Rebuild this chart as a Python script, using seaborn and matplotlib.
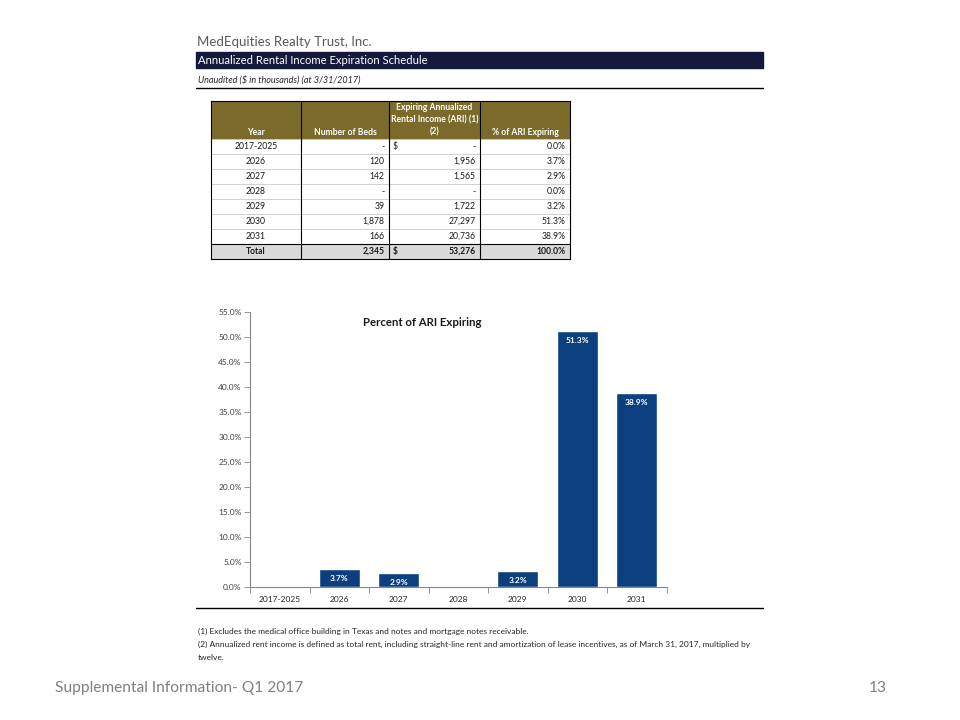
import numpy as np
import seaborn as sns
import matplotlib.pyplot as plt
from matplotlib.patches import Rectangle
from matplotlib.lines import Line2D
from matplotlib.table import Table

years = ['2017-2025', '2026', '2027', '2028', '2029', '2030', '2031']
beds = ['-', '120', '142', '-', '39', '1,878', '166']
ari = ['-', '1,956', '1,565', '-', '1,722', '27,297', '20,736']
pct_ari = [0.0, 3.7, 2.9, 0.0, 3.2, 51.3, 38.9]
total_row = ['Total', '2,345', '53,276', '100.0%']
col_headers = ['\n\nYear', '\n\nNumber of Beds',
               'Expiring Annualized\nRental Income (ARI) (1)\n(2)',
               '\n\n% of ARI Expiring']
dollar_rows = [0, 7]
y_ticks = np.arange(0, 55.1, 5)

footnotes = [
    '(1) Excludes the medical office building in Texas and notes and mortgage notes receivable.',
    '(2) Annualized rent income is defined as total rent, including straight-line rent and amortization of lease incentives, as of March 31, 2017, multiplied by',
    'twelve.',
]

sns.set_style('white')
plt.rcParams['font.family'] = ['Lato', 'DejaVu Sans']

bar_color = '#0c3f7e'
olive = '#7b6b2a'
navy = '#151a3c'

fig = plt.figure(figsize=(9.6, 7.2), dpi=100)


def fx(px):
    return px / 960


def fy(py):
    return 1 - py / 720


# Page header
fig.text(fx(197), fy(42), 'MedEquities Realty Trust, Inc.', fontsize=9.5,
         color='#595959', va='center')
fig.add_artist(Rectangle((fx(196), fy(68)), 567 / 960, 16 / 720,
                         transform=fig.transFigure, color=navy))
fig.text(fx(198), fy(60), 'Annualized Rental Income Expiration Schedule',
         fontsize=8.1, color='white', va='center')
fig.text(fx(198), fy(80), 'Unaudited ($ in thousands) (at 3/31/2017)',
         fontsize=6.5, style='italic', color='#262626', va='center')
fig.add_artist(Line2D([fx(196), fx(763)], [fy(88), fy(88)],
                      transform=fig.transFigure, color='black', lw=1))

# Table
col_widths = [90, 88, 91, 90]
head_h, row_h = 38, 15
tab_ax = fig.add_axes([fx(211), fy(259), sum(col_widths) / 960,
                       (head_h + 8 * row_h) / 720])
tab_ax.set_xlim(0, 1)
tab_ax.set_ylim(0, 1)
tab_ax.set_xticks([])
tab_ax.set_yticks([])
for s in tab_ax.spines.values():
    s.set_color('black')
    s.set_linewidth(0.8)

rows = [col_headers]
for i in range(len(years)):
    rows.append([years[i], beds[i], ari[i], f'{pct_ari[i]:.1f}%'])
rows.append(total_row)

tbl = Table(tab_ax, bbox=[0, 0, 1, 1])
for r, row in enumerate(rows):
    for c, txt in enumerate(row):
        if r == 0:
            cell = tbl.add_cell(r, c, width=col_widths[c], height=head_h,
                                text=txt, loc='center', facecolor=olive,
                                edgecolor=olive)
            cell.get_text().set_color('white')
            cell.get_text().set_fontweight('bold')
            cell.get_text().set_linespacing(1.45)
        else:
            fc = '#d9d9d9' if r == len(rows) - 1 else 'white'
            cell = tbl.add_cell(r, c, width=col_widths[c], height=row_h,
                                text=txt, loc='center' if c == 0 else 'right',
                                facecolor=fc, edgecolor='#c8c8c8')
            cell.get_text().set_color('#1a1a1a')
            if r == len(rows) - 1:
                cell.get_text().set_fontweight('bold')
        cell.PAD = 0.05
        cell.set_linewidth(0.5)
tbl.auto_set_font_size(False)
tbl.set_fontsize(6.2)
tbl.set_zorder(1)
tab_ax.add_table(tbl)

total_h = head_h + 8 * row_h
for xb in np.cumsum(col_widths)[:-1] / sum(col_widths):
    tab_ax.axvline(xb, color='black', lw=0.8, zorder=5)
tab_ax.axhline(row_h / total_h, color='black', lw=0.8, zorder=5)
for r in dollar_rows:
    yc = 1 - (head_h + row_h * r + row_h / 2) / total_h
    tab_ax.text((col_widths[0] + col_widths[1] + 4) / sum(col_widths), yc, '$',
                fontsize=6.2, va='center', ha='left', color='#1a1a1a', zorder=6,
                fontweight='bold' if r == 7 else 'normal')

# Chart
ax = fig.add_axes([fx(250), fy(587), (666.5 - 250) / 960, (587 - 312) / 720])
sns.barplot(x=years, y=pct_ari, color=bar_color, saturation=1, width=0.69, ax=ax)
ax.set_ylim(0, 55)
ax.set_yticks(y_ticks)
ax.set_yticklabels([f'{v:.1f}%' for v in y_ticks])
ax.tick_params(axis='y', length=4, width=0.6, color='#868686', labelsize=6,
               labelcolor='#404040', pad=2, left=True)
ax.set_xlim(-0.5, 6.5)
ax.set_xticks(np.arange(-0.5, 7, 1))
ax.set_xticklabels([])
ax.set_xticks(range(len(years)), minor=True)
ax.set_xticklabels(years, minor=True)
ax.tick_params(axis='x', which='major', length=4, width=0.6, color='#868686',
               bottom=True)
ax.tick_params(axis='x', which='minor', length=0, labelsize=6,
               labelcolor='#262626', pad=6.5)
ax.set_xlabel('')
ax.set_ylabel('')
for side in ['top', 'right']:
    ax.spines[side].set_visible(False)
for side in ['left', 'bottom']:
    ax.spines[side].set_color('#868686')
    ax.spines[side].set_linewidth(0.8)

ax.bar_label(ax.containers[0],
             labels=[f'{v:.1f}%' if v > 0 else '' for v in pct_ari],
             padding=-9.5, color='white', fontsize=6, fontweight='bold')
ax.text(0.413, 0.962, 'Percent of ARI Expiring', transform=ax.transAxes,
        ha='center', va='center', fontsize=8.2, fontweight='bold',
        color='#1a1a1a')

# Footnotes and footer
fig.add_artist(Line2D([fx(196), fx(763)], [fy(608), fy(608)],
                      transform=fig.transFigure, color='black', lw=1))
for i, note in enumerate(footnotes):
    fig.text(fx(198), fy(631 + 13.5 * i), note, fontsize=6,
             color='#262626', va='center')
fig.text(fx(55), fy(688), 'Supplemental Information- Q1 2017', fontsize=11.2,
         color='#7f7f7f', va='center')
fig.text(fx(887), fy(688), '13', fontsize=11.2, color='#7f7f7f',
         va='center', ha='right')

plt.savefig('out.png', dpi=100)
